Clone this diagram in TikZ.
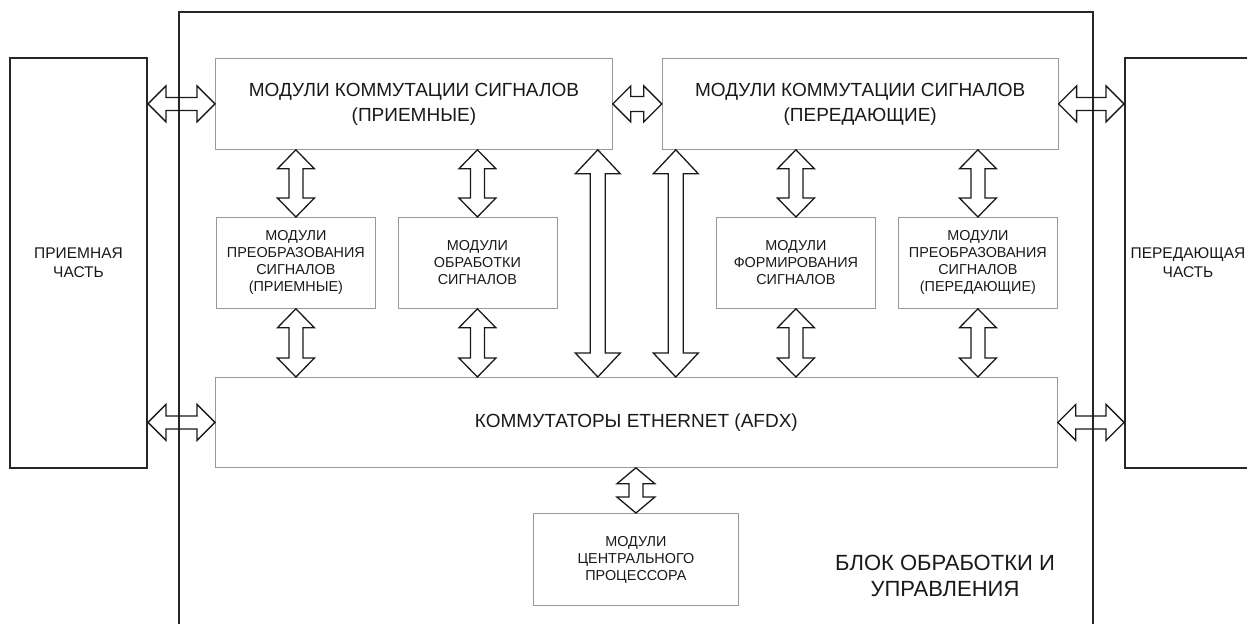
\documentclass[tikz,border=0pt]{standalone}
\usepackage{fontspec}
\setmainfont{Liberation Sans}
\usetikzlibrary{positioning,calc}

% double-headed block arrows between two anchors
% #1 from, #2 to, #3 shaft half width, #4 head half width, #5 head length (pt)
\newcommand{\biarrowv}[5]{%
  \draw[fatarrow] let \p1=#1, \p2=#2 in
    (\x1,\y1) -- (\x1+#4pt,\y1-#5pt) -- (\x1+#3pt,\y1-#5pt) -- (\x1+#3pt,\y2+#5pt)
    -- (\x1+#4pt,\y2+#5pt) -- (\x1,\y2) -- (\x1-#4pt,\y2+#5pt) -- (\x1-#3pt,\y2+#5pt)
    -- (\x1-#3pt,\y1-#5pt) -- (\x1-#4pt,\y1-#5pt) -- cycle;}
\newcommand{\biarrowh}[5]{%
  \draw[fatarrow] let \p1=#1, \p2=#2 in
    (\x1,\y1) -- (\x1+#5pt,\y1+#4pt) -- (\x1+#5pt,\y1+#3pt) -- (\x2-#5pt,\y1+#3pt)
    -- (\x2-#5pt,\y1+#4pt) -- (\x2,\y1) -- (\x2-#5pt,\y1-#4pt) -- (\x2-#5pt,\y1-#3pt)
    -- (\x1+#5pt,\y1-#3pt) -- (\x1+#5pt,\y1-#4pt) -- cycle;}

\tikzset{
  modbox/.style={draw=black!40,line width=0.8pt,align=center,inner sep=0pt,text=black!90},
  bigmod/.style={modbox,font=\fontsize{19}{25}\selectfont},
  smallmod/.style={modbox,minimum width=159pt,minimum height=91pt,font=\fontsize{14.4}{17}\selectfont},
  partbox/.style={draw=black!85,line width=2pt,align=center,minimum height=410pt,
    font=\fontsize{15.5}{19}\selectfont,text=black!90},
  fatarrow/.style={draw=black!90,line width=1.3pt,line join=miter},
  frame/.style={draw=black!85,line width=2pt}
}

\begin{document}
\begin{tikzpicture}[x=1pt,y=-1pt]
\useasboundingbox (0,0) rectangle (1247,624);
% outer block
\draw[frame] (179,624) -- (179,12) -- (1093,12) -- (1093,624);
\node[align=center,font=\fontsize{22}{26}\selectfont,text=black!90] (blk) at (945,576) {БЛОК ОБРАБОТКИ И\\УПРАВЛЕНИЯ};

% receiving and transmitting parts
\node[partbox,minimum width=137pt] (rx) at (78.5,263) {ПРИЕМНАЯ\\ЧАСТЬ};
\node[partbox,minimum width=126pt] (tx) at (1188,263) {ПЕРЕДАЮЩАЯ\\ЧАСТЬ};

% modules
\node[bigmod,minimum width=397pt,minimum height=91pt,anchor=north west] (mkp) at (215,58) {МОДУЛИ КОММУТАЦИИ СИГНАЛОВ\\(ПРИЕМНЫЕ)};
\node[bigmod,minimum width=396pt,minimum height=91pt,right=49pt of mkp] (mkt) {МОДУЛИ КОММУТАЦИИ СИГНАЛОВ\\(ПЕРЕДАЮЩИЕ)};
\node[smallmod,anchor=north west] (prp) at (216,217) {МОДУЛИ\\ПРЕОБРАЗОВАНИЯ\\СИГНАЛОВ\\(ПРИЕМНЫЕ)};
\node[smallmod,anchor=north west] (obr) at (397.5,217) {МОДУЛИ\\ОБРАБОТКИ\\СИГНАЛОВ};
\node[smallmod,anchor=north west] (frm) at (716,217) {МОДУЛИ\\ФОРМИРОВАНИЯ\\СИГНАЛОВ};
\node[smallmod,anchor=north west] (prt) at (898,217) {МОДУЛИ\\ПРЕОБРАЗОВАНИЯ\\СИГНАЛОВ\\(ПЕРЕДАЮЩИЕ)};
\node[bigmod,minimum width=842pt,minimum height=90pt,anchor=north west] (eth) at (215,377) {КОММУТАТОРЫ ETHERNET (AFDX)};
\node[smallmod,minimum width=205pt,minimum height=92pt,anchor=north west] (cpu) at (533,513) {МОДУЛИ\\ЦЕНТРАЛЬНОГО\\ПРОЦЕССОРА};

% horizontal links
\biarrowh{(rx.east |- mkp.west)}{(mkp.west)}{6.5}{18}{18}
\biarrowh{(mkp.east)}{(mkt.west)}{7.5}{18}{18}
\biarrowh{(mkt.east)}{(tx.west |- mkt.east)}{6.5}{18}{18}
\biarrowh{(rx.east |- eth.west)}{(eth.west)}{6.5}{18}{18}
\biarrowh{(eth.east)}{(tx.west |- eth.east)}{6.5}{18}{18}

% vertical links
\biarrowv{(mkp.south -| prp.north)}{(prp.north)}{7}{18.5}{19}
\biarrowv{(mkp.south -| obr.north)}{(obr.north)}{7}{18.5}{19}
\biarrowv{(mkt.south -| frm.north)}{(frm.north)}{7}{18.5}{19}
\biarrowv{(mkt.south -| prt.north)}{(prt.north)}{7}{18.5}{19}
\biarrowv{(prp.south)}{(eth.north -| prp.south)}{7}{18.5}{19}
\biarrowv{(obr.south)}{(eth.north -| obr.south)}{7}{18.5}{19}
\biarrowv{(frm.south)}{(eth.north -| frm.south)}{7}{18.5}{19}
\biarrowv{(prt.south)}{(eth.north -| prt.south)}{7}{18.5}{19}
\biarrowv{([xshift=-15pt]mkp.south east)}{([xshift=-15pt]mkp.south east |- eth.north)}{7.5}{22.5}{24}
\biarrowv{([xshift=14pt]mkt.south west)}{([xshift=14pt]mkt.south west |- eth.north)}{7.5}{22.5}{24}
\biarrowv{(eth.south -| cpu.north)}{(cpu.north)}{7}{19}{16}
\end{tikzpicture}
\end{document}
